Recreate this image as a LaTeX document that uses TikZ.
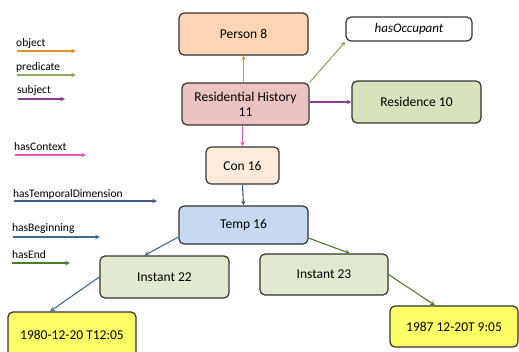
\documentclass[tikz,border=0pt]{standalone}
\usepackage{fontspec}
\setmainfont{Carlito}
\definecolor{objcol}{HTML}{E8902E}
\definecolor{predcol}{HTML}{8FAA5A}
\definecolor{subjcol}{HTML}{8E3A94}
\definecolor{ctxcol}{HTML}{E35BC8}
\definecolor{tempcol}{HTML}{3F5F80}
\definecolor{begcol}{HTML}{416A94}
\definecolor{endcol}{HTML}{4F7A2A}
\tikzset{
  box/.style={draw=black!80, line width=1.2pt, rounded corners=5pt, font=\fontsize{13.5}{15}\selectfont, align=center, inner sep=0pt},
  legend/.style={anchor=base west, inner sep=1pt, font=\fontsize{11.5}{13}\selectfont},
  arr/.style={->, >=stealth, line width=1.1pt}
}
\begin{document}
\begin{tikzpicture}[x=1pt,y=-1pt]
        \useasboundingbox (0,0) rectangle (519,351);
        % legend
        \node[legend] (lobj) at (15,46.5) {object};
        \draw [arr, objcol] (17,51) -- (76,51);
        \node[legend] (lpred) at (15,70) {predicate};
        \draw [arr, predcol] (17,75) -- (76,75);
        \node[legend] (lsubj) at (16,93.5) {subject};
        \draw [arr, subjcol] (18,99) -- (65,99);
        \node[legend] (lctx) at (13,150) {hasContext};
        \draw [arr, ctxcol] (15,155) -- (86,155);
        \node[legend] (ltemp) at (12,197) {hasTemporalDimension};
        \draw [arr, tempcol] (14,201) -- (157,201);
        \node[legend] (lbeg) at (11,231.5) {hasBeginning};
        \draw [arr, begcol] (13,237) -- (100,237);
        \node[legend] (lend) at (11,258) {hasEnd};
        \draw [arr, endcol] (12,263) -- (70,263);
        % nodes
        \node[box, fill={rgb,255:red,252;green,213;blue,181}, minimum width=129pt, minimum height=42pt] (person) at (243.5,34) {Person 8};
        \node[box, fill=white, minimum width=126pt, minimum height=24pt, font=\fontsize{13}{15}\selectfont\itshape] (occ) at (409,29) {hasOccupant};
        \node[box, fill={rgb,255:red,235;green,195;blue,194}, minimum width=127pt, minimum height=42pt] (rh) at (245.5,104) {Residential History\\11};
        \node[box, fill={rgb,255:red,214;green,227;blue,188}, minimum width=129pt, minimum height=42pt] (res) at (416.5,102) {Residence 10};
        \node[box, fill={rgb,255:red,253;green,234;blue,218}, minimum width=73pt, minimum height=37pt] (con) at (242.5,165.5) {Con 16};
        \node[box, fill={rgb,255:red,198;green,217;blue,240}, minimum width=129pt, minimum height=38pt] (temp) at (243.5,225) {Temp 16};
        \node[box, fill={rgb,255:red,225;green,234;blue,207}, minimum width=129pt, minimum height=42pt] (inst22) at (164.5,277) {Instant 22};
        \node[box, fill={rgb,255:red,225;green,234;blue,207}, minimum width=128pt, minimum height=41pt] (inst23) at (324,274.5) {Instant 23};
        \node[box, fill={rgb,255:red,255;green,255;blue,102}, minimum width=128pt, minimum height=46pt] (d1980) at (72,335) {1980-12-20 T12:05};
        \node[box, fill={rgb,255:red,255;green,255;blue,102}, minimum width=128pt, minimum height=41pt] (d1987) at (454,326.5) {1987 12-20T 9:05};
        % connectors
        \draw [arr, objcol] (rh.north -| person.south) -- (person.south);
        \draw [arr, predcol] (rh.north east) -- (occ.south west);
        \draw [arr, subjcol] (rh.east |- res.west) -- (res.west);
        \draw [arr, ctxcol] (rh.south -| con.north) -- (con.north);
        \draw [arr, tempcol] (con.south) -- (temp.north);
        \draw [arr, begcol] ([yshift=-12pt]temp.west) -- ([xshift=-20pt]inst22.north);
        \draw [arr, endcol] ([yshift=-13pt]temp.east) -- ([xshift=26pt]inst23.north);
        \draw [arr, begcol] (inst22.west) -- ([xshift=-22pt]d1980.north);
        \draw [arr, endcol] (inst23.east) -- ([xshift=-19pt]d1987.north);
\end{tikzpicture}
\end{document}
